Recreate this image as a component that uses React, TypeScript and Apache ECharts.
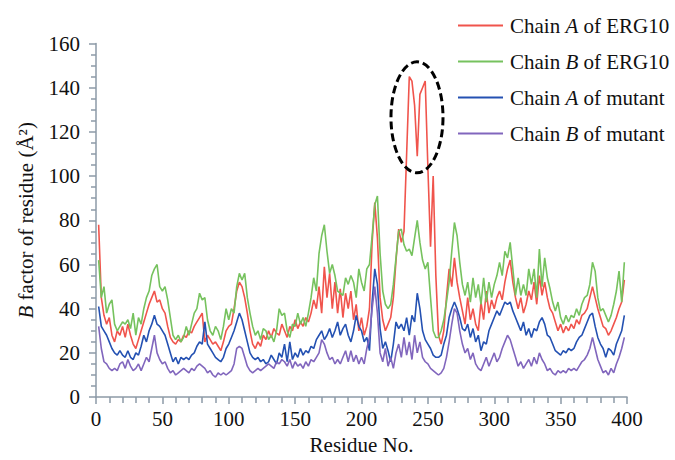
import React, { useEffect, useRef } from "react";
import * as echarts from "echarts";

// residue numbers (every second residue, 2..398)
const residues: number[] = Array.from({ length: 199 }, (_, i) => 2 + 2 * i);

const chainA_ERG10: number[] = [
  78, 45, 37, 33, 36, 28, 25, 30, 28, 32,
  27, 33, 28, 24, 22, 26, 30, 34, 38, 42,
  45, 48, 43, 44, 40, 38, 32, 27, 25, 24,
  26, 25, 28, 27, 30, 29, 32, 34, 36, 38,
  25, 28, 26, 24, 25, 23, 21, 25, 30, 32,
  33, 40, 48, 52, 50, 45, 38, 30, 24, 22,
  25, 23, 28, 26, 30, 27, 31, 29, 28, 33,
  30, 27, 32, 30, 35, 31, 34, 32, 36, 34,
  38, 44, 40, 50, 38, 59, 45, 56, 40, 52,
  38, 49, 36, 47, 40, 48, 35, 42, 30, 36,
  28, 32, 40, 70, 88, 72, 45, 35, 30, 33,
  36, 45, 62, 76, 70, 75, 110, 145, 143, 132,
  109, 137, 140, 143, 104, 68, 100, 55, 28, 24,
  30, 45, 58, 50, 63, 52, 45, 39, 33, 45,
  35, 40, 33, 30, 43, 35, 48, 38, 44, 40,
  45, 48, 44, 52, 58, 62, 52, 45, 40, 45,
  38, 42, 48, 44, 52, 42, 55, 46, 52, 45,
  40, 38, 34, 30, 33, 29, 32, 30, 33, 31,
  35, 33, 37, 38, 40, 45, 50, 45, 40, 36,
  32, 31, 28, 30, 33, 36, 40, 43, 53,
];

const chainB_ERG10: number[] = [
  62, 45, 50, 38, 42, 44, 33, 30, 32, 34,
  33, 35, 31, 38, 28, 36, 33, 40, 45, 48,
  55, 58, 60, 50, 48, 50, 44, 36, 28, 26,
  28, 25, 27, 32, 28, 33, 38, 40, 47, 44,
  45, 35, 30, 28, 32, 30, 26, 32, 40, 35,
  40, 38, 50, 56, 53, 56, 45, 38, 32, 28,
  30, 26, 31, 30, 26, 28, 25, 30, 40, 37,
  38, 30, 27, 33, 32, 38, 33, 36, 32, 38,
  45, 54, 48, 65, 73, 78, 66, 56, 60, 55,
  48, 47, 46, 54, 51, 55, 52, 45, 58, 52,
  48, 58, 60, 73, 87, 91, 65, 48, 42, 40,
  42, 51, 63, 75, 76, 69, 66, 67, 64, 72,
  80, 70, 62, 58, 61, 45, 30, 27, 27, 30,
  35, 43, 52, 66, 79, 73, 61, 51, 46, 52,
  43, 54, 45, 51, 42, 54, 43, 52, 45, 51,
  55, 61, 55, 66, 63, 70, 58, 46, 54, 46,
  51, 46, 58, 51, 58, 45, 67, 50, 63, 54,
  49, 43, 39, 43, 36, 33, 37, 34, 37, 36,
  40, 37, 42, 45, 46, 51, 61, 57, 45, 39,
  40, 37, 34, 37, 42, 48, 57, 43, 61,
];

const chainA_mutant: number[] = [
  41, 32, 30, 28, 25, 22, 20, 19, 21, 19,
  18, 21, 18, 17, 20, 19, 23, 28, 25, 30,
  33, 37, 33, 32, 30, 28, 24, 20, 16, 18,
  15, 18, 17, 18, 17, 19, 20, 23, 25, 24,
  34, 24, 22, 20, 18, 17, 16, 18, 22, 24,
  27, 30, 34, 38, 35, 30, 25, 20, 18, 17,
  18, 16, 17, 15, 16, 19, 17, 15, 20, 18,
  24, 16, 25, 17, 20, 18, 22, 19, 21, 20,
  23, 22, 26, 28, 30, 26, 28, 31, 27, 30,
  34, 28, 31, 33, 28, 25, 30, 37, 32, 30,
  25, 27, 21, 43, 58, 51, 31, 22, 25, 21,
  16, 24, 34, 31, 33, 30, 36, 28, 37, 34,
  47, 40, 30, 26, 24, 22, 19, 18, 18, 19,
  24, 28, 36, 40, 43, 40, 36, 31, 30, 33,
  27, 31, 25, 28, 21, 25, 24, 30, 33, 36,
  39, 37, 40, 43, 42, 43, 39, 36, 33, 30,
  34, 28, 31, 27, 31, 30, 34, 36, 33, 28,
  27, 24, 21, 20, 19, 21, 20, 22, 21, 22,
  25, 27, 28, 31, 34, 37, 38, 32, 27, 24,
  22, 18, 22, 21, 19, 24, 27, 30, 37,
];

const chainB_mutant: number[] = [
  32, 22, 16, 15, 13, 12, 13, 12, 15, 16,
  13, 17, 14, 12, 13, 15, 12, 15, 18, 16,
  22, 28, 20, 17, 15, 16, 13, 11, 12, 10,
  11, 12, 13, 12, 11, 13, 12, 14, 15, 14,
  13, 11, 12, 10, 9, 11, 10, 11, 10, 11,
  12, 15, 22, 23, 22, 18, 14, 12, 11, 12,
  13, 12, 13, 14, 15, 14, 13, 16, 15, 17,
  16, 14, 17, 13, 16, 14, 15, 13, 16, 14,
  17, 16, 18, 20, 26, 24, 20, 17, 18, 15,
  17, 15, 18, 21, 16, 21, 16, 19, 15, 18,
  15, 22, 27, 40, 50, 38, 20, 16, 22, 14,
  18, 13, 20, 24, 18, 27, 19, 25, 17, 28,
  20, 25, 18, 16, 15, 13, 12, 11, 10, 11,
  13, 18, 25, 33, 40, 38, 30, 24, 20, 22,
  17, 20, 15, 13, 12, 15, 18, 14, 17, 20,
  16, 18, 22, 25, 28, 26, 22, 18, 14, 16,
  13, 15, 17, 14, 18, 15, 20, 17, 15, 12,
  13, 11, 10, 12, 11, 12, 11, 13, 12, 13,
  12, 14, 16, 17, 19, 22, 27, 22, 17, 14,
  11, 12, 10, 13, 11, 15, 18, 22, 27,
];

const seriesNames = [
  "Chain A of ERG10",
  "Chain B of ERG10",
  "Chain A of mutant",
  "Chain B of mutant",
];
const seriesColors = ["#f0544c", "#76c25e", "#2451b2", "#8166bd"];
const seriesValues = [chainA_ERG10, chainB_ERG10, chainA_mutant, chainB_mutant];

const xTicks = { min: 0, max: 400, interval: 50 };
const yTicks = { min: 0, max: 160, interval: 20 };

// highlighted region (dashed ellipse), in data units
const highlight = { cx: 241.8, cy: 126.6, halfX: 19.6, halfY: 25.1 };

const FONT = "Liberation Serif";
const AXIS_COLOR = "#8d9aa7";

export default function App() {
  const ref = useRef<HTMLDivElement>(null);

  useEffect(() => {
    if (!ref.current) return;
    const chart = echarts.init(ref.current, undefined, { renderer: "svg" });
    const italic = { fontFamily: FONT, fontSize: 21, fontStyle: "italic", color: "#111" };
    const option: any = {
      animation: false,
      backgroundColor: "#ffffff",
      textStyle: { fontFamily: FONT },
      grid: { left: 96, top: 43.5, right: 48, bottom: 60, containLabel: false },
      legend: {
        orient: "vertical",
        left: 458,
        top: 15,
        padding: 0,
        icon: "rect",
        itemWidth: 45,
        itemHeight: 2,
        itemGap: 15,
        data: seriesNames,
        textStyle: {
          fontFamily: FONT,
          fontSize: 21,
          color: "#111",
          padding: [0, 0, 0, 2],
          rich: { i: italic },
        },
        formatter: (name: string) => name.replace(/Chain ([AB])/, "Chain {i|$1}"),
      },
      xAxis: {
        type: "value",
        min: xTicks.min,
        max: xTicks.max,
        interval: xTicks.interval,
        name: "Residue No.",
        nameLocation: "middle",
        nameGap: 34,
        nameTextStyle: { fontFamily: FONT, fontSize: 21, color: "#111" },
        axisLine: { show: true, onZero: false, lineStyle: { color: AXIS_COLOR, width: 1.5 } },
        axisTick: { show: true, length: 7, lineStyle: { color: AXIS_COLOR, width: 1.5 } },
        minorTick: { show: true, splitNumber: 5, length: 6, lineStyle: { color: AXIS_COLOR, width: 1.5 } },
        axisLabel: { fontFamily: FONT, fontSize: 21, color: "#111", margin: 11 },
        splitLine: { show: false },
      },
      yAxis: {
        type: "value",
        min: yTicks.min,
        max: yTicks.max,
        interval: yTicks.interval,
        name: "{i|B} factor of residue (Å²)",
        nameLocation: "middle",
        nameGap: 60,
        nameTextStyle: {
          fontFamily: FONT,
          fontSize: 21,
          color: "#111",
          rich: { i: italic },
        },
        axisLine: { show: true, lineStyle: { color: AXIS_COLOR, width: 1.5 } },
        axisTick: { show: true, length: 7, lineStyle: { color: AXIS_COLOR, width: 1.5 } },
        minorTick: { show: true, splitNumber: 4, length: 5, lineStyle: { color: AXIS_COLOR, width: 1.5 } },
        axisLabel: { fontFamily: FONT, fontSize: 21, color: "#111", margin: 16 },
        splitLine: { show: false },
      },
      series: seriesNames.map((name, k) => ({
        name,
        type: "line",
        symbol: "none",
        data: residues.map((r, i) => [r, seriesValues[k][i]]),
        lineStyle: { color: seriesColors[k], width: 1.6 },
        itemStyle: { color: seriesColors[k] },
        z: 2,
      })),
    };
    chart.setOption(option);

    const c = chart.convertToPixel({ gridIndex: 0 }, [highlight.cx, highlight.cy]) as number[];
    const e = chart.convertToPixel({ gridIndex: 0 }, [
      highlight.cx + highlight.halfX,
      highlight.cy + highlight.halfY,
    ]) as number[];
    chart.setOption({
      graphic: [
        {
          type: "ellipse",
          shape: { cx: c[0], cy: c[1], rx: Math.abs(e[0] - c[0]), ry: Math.abs(c[1] - e[1]) },
          style: { fill: "none", stroke: "#000", lineWidth: 3, lineDash: [8, 4] },
          z: 100,
        },
      ],
    });

    return () => chart.dispose();
  }, []);

  return (
    <div
      ref={ref}
      style={{ position: "fixed", left: 0, top: 0, width: 675, height: 460, background: "#fff" }}
    />
  );
}
